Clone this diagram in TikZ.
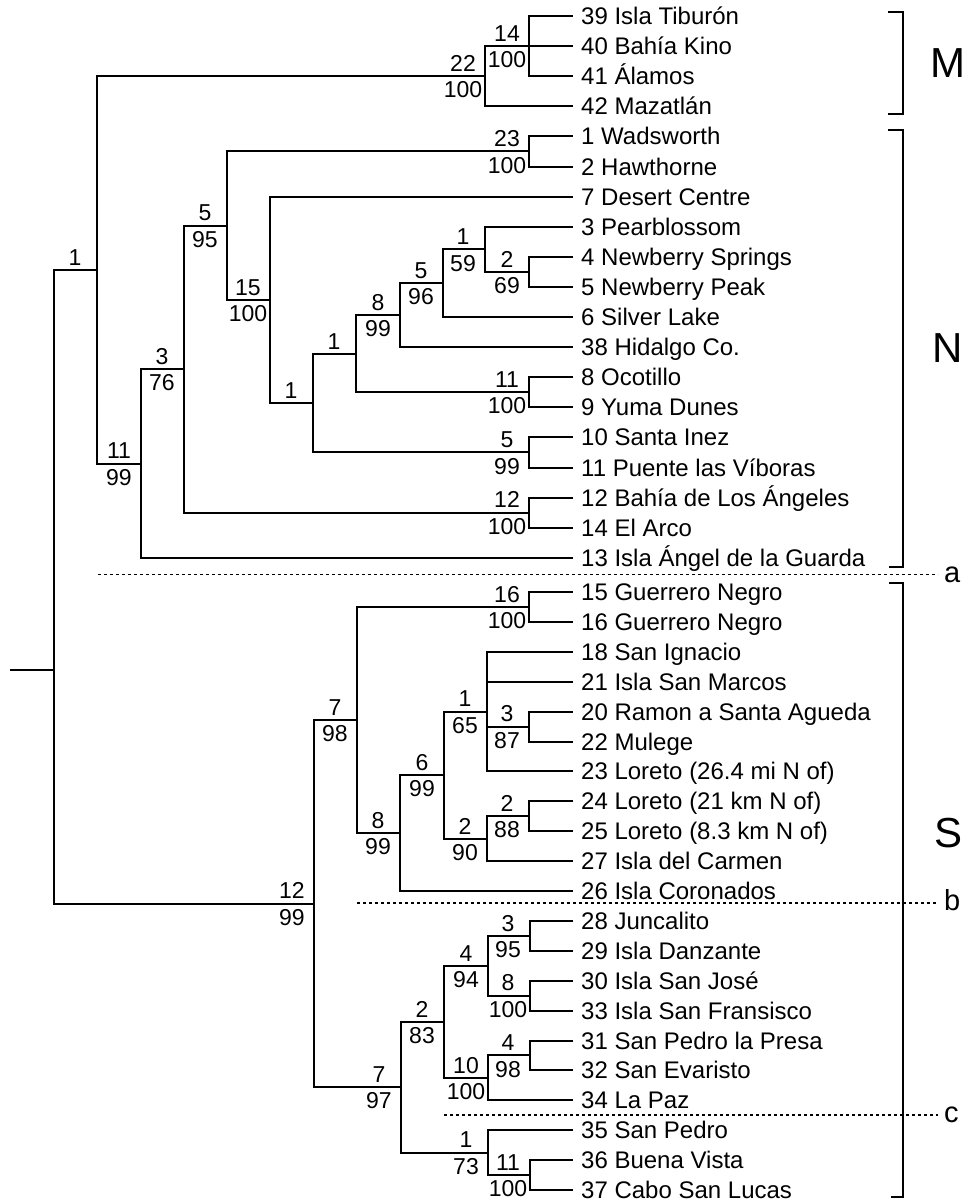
\documentclass[tikz,border=0pt]{standalone}
\usepackage{fontspec}
\setmainfont{Liberation Sans}
\tikzset{
  br/.style={line width=2pt, line cap=rect},
  leaf/.style={anchor=west, inner xsep=9pt, inner ysep=0pt, font=\fontsize{24}{26}\selectfont, text height=17pt, text depth=0pt},
  supA/.style={anchor=south, inner sep=0pt, font=\fontsize{23}{25}\selectfont, text height=16pt, text depth=0pt},
  supB/.style={anchor=north, inner sep=0pt, font=\fontsize{23}{25}\selectfont, text height=16pt, text depth=0pt},
  grp/.style={inner sep=0pt, font=\fontsize{42}{44}\selectfont, text height=30pt, text depth=0pt},
  cut/.style={anchor=west, inner xsep=6pt, inner ysep=0pt, font=\fontsize{29}{31}\selectfont, text height=15pt, text depth=0pt},
  sep/.style={line width=1.7pt, dash pattern=on 2.8pt off 3.2pt},
  brk/.style={line width=2.4pt}
}
\newcommand\mkint[5]{%
  \coordinate (#1) at (#2,#3);
  \node[supA] (#1-t) at (#2-22,#3-4.5) {#4};
  \node[supB] (#1-b) at (#2-22,#3+5.5) {#5};
}
\newcommand\mkone[4]{%
  \coordinate (#1) at (#2,#3);
  \node[supA] (#1-t) at (#2-22,#3-4.5) {#4};
}
\newcommand\mkleaf[3]{\node[leaf] (#1) at (572,#2) {#3};}
\begin{document}
\begin{tikzpicture}[x=1pt,y=-1pt]
\useasboundingbox (0,0) rectangle (974,1203);
% leaves
\mkleaf{l39}{16}{39 Isla Tiburón}
\mkleaf{l40}{46.1}{40 Bahía Kino}
\mkleaf{l41}{76.2}{41 Álamos}
\mkleaf{l42}{106.3}{42 Mazatlán}
\mkleaf{l1}{136.4}{1 Wadsworth}
\mkleaf{l2}{166.5}{2 Hawthorne}
\mkleaf{l7}{196.6}{7 Desert Centre}
\mkleaf{l3}{226.7}{3 Pearblossom}
\mkleaf{l4}{256.8}{4 Newberry Springs}
\mkleaf{l5}{286.9}{5 Newberry Peak}
\mkleaf{l6}{317}{6 Silver Lake}
\mkleaf{l38}{347.1}{38 Hidalgo Co.}
\mkleaf{l8}{377.2}{8 Ocotillo}
\mkleaf{l9}{407.3}{9 Yuma Dunes}
\mkleaf{l10}{437.4}{10 Santa Inez}
\mkleaf{l11}{467.5}{11 Puente las Víboras}
\mkleaf{l12}{497.6}{12 Bahía de Los Ángeles}
\mkleaf{l14}{527.7}{14 El Arco}
\mkleaf{l13}{557.8}{13 Isla Ángel de la Guarda}
\mkleaf{l15}{592}{15 Guerrero Negro}
\mkleaf{l16}{621.9}{16 Guerrero Negro}
\mkleaf{l18}{651.8}{18 San Ignacio}
\mkleaf{l21}{681.7}{21 Isla San Marcos}
\mkleaf{l20}{711.6}{20 Ramon a Santa Agueda}
\mkleaf{l22}{741.5}{22 Mulege}
\mkleaf{l23}{771.4}{23 Loreto (26.4 mi N of)}
\mkleaf{l24}{801.3}{24 Loreto (21 km N of)}
\mkleaf{l25}{831.2}{25 Loreto (8.3 km N of)}
\mkleaf{l27}{861.1}{27 Isla del Carmen}
\mkleaf{l26}{891}{26 Isla Coronados}
\mkleaf{l28}{920.9}{28 Juncalito}
\mkleaf{l29}{950.8}{29 Isla Danzante}
\mkleaf{l30}{980.7}{30 Isla San José}
\mkleaf{l33}{1010.6}{33 Isla San Fransisco}
\mkleaf{l31}{1040.5}{31 San Pedro la Presa}
\mkleaf{l32}{1070.4}{32 San Evaristo}
\mkleaf{l34}{1100.3}{34 La Paz}
\mkleaf{l35}{1130.2}{35 San Pedro}
\mkleaf{l36}{1160.1}{36 Buena Vista}
\mkleaf{l37}{1190}{37 Cabo San Lucas}
% internal nodes (top)
\mkint{n14}{529}{46.1}{14}{100}
\mkint{nM}{485}{76.2}{22}{100}
\mkint{n23}{529}{151.45}{23}{100}
\mkint{n2a}{529}{271.85}{2}{69}
\mkint{n1a}{485}{249.3}{1}{59}
\mkint{n5b}{443}{283.1}{5}{96}
\mkint{n8}{400}{315.1}{8}{99}
\mkint{n11}{529}{392.25}{11}{100}
\mkone{n1b}{356}{353.7}{1}
\mkint{n5c}{529}{452.45}{5}{99}
\mkone{n1c}{313}{403.1}{1}
\mkint{n15}{270}{299.85}{15}{100}
\mkint{n5a}{227}{225.65}{5}{95}
\mkint{n12}{529}{512.65}{12}{100}
\mkint{n3}{184}{369.15}{3}{76}
\mkint{n11b}{141}{463.5}{11}{99}
\mkone{nR1}{97}{269.85}{1}
% internal nodes (bottom)
\mkint{n16}{529}{606.95}{16}{100}
\mkint{n3b}{529}{726.55}{3}{87}
\mkint{n1d}{487}{711.6}{1}{65}
\mkint{n2b}{529}{816.25}{2}{88}
\mkint{n2c}{487}{838.7}{2}{90}
\mkint{n6}{444}{775.15}{6}{99}
\mkint{n8b}{400}{833.1}{8}{99}
\mkint{n7a}{357}{720}{7}{98}
\mkint{n3c}{530}{935.85}{3}{95}
\mkint{n8c}{530}{995.65}{8}{100}
\mkint{n4}{488}{965.75}{4}{94}
\mkint{n4b}{530}{1055.45}{4}{98}
\mkint{n10}{488}{1077.9}{10}{100}
\mkint{n2d}{444}{1021.8}{2}{83}
\mkint{n11c}{530}{1175.05}{11}{100}
\mkint{n1e}{488}{1152.6}{1}{73}
\mkint{n7b}{401}{1087.2}{7}{97}
\mkint{n12b}{314}{903.6}{12}{99}
\coordinate (root) at (54,670);
\coordinate (stub) at (11,670);
% branches
\draw[br] (n14) |- (l39.west);
\draw[br] (n14) |- (l40.west);
\draw[br] (n14) |- (l41.west);
\draw[br] (nM) |- (n14);
\draw[br] (nM) |- (l42.west);
\draw[br] (n23) |- (l1.west);
\draw[br] (n23) |- (l2.west);
\draw[br] (n2a) |- (l4.west);
\draw[br] (n2a) |- (l5.west);
\draw[br] (n1a) |- (l3.west);
\draw[br] (n1a) |- (n2a);
\draw[br] (n5b) |- (n1a);
\draw[br] (n5b) |- (l6.west);
\draw[br] (n8) |- (n5b);
\draw[br] (n8) |- (l38.west);
\draw[br] (n11) |- (l8.west);
\draw[br] (n11) |- (l9.west);
\draw[br] (n1b) |- (n8);
\draw[br] (n1b) |- (n11);
\draw[br] (n5c) |- (l10.west);
\draw[br] (n5c) |- (l11.west);
\draw[br] (n1c) |- (n1b);
\draw[br] (n1c) |- (n5c);
\draw[br] (n15) |- (l7.west);
\draw[br] (n15) |- (n1c);
\draw[br] (n5a) |- (n23);
\draw[br] (n5a) |- (n15);
\draw[br] (n12) |- (l12.west);
\draw[br] (n12) |- (l14.west);
\draw[br] (n3) |- (n5a);
\draw[br] (n3) |- (n12);
\draw[br] (n11b) |- (n3);
\draw[br] (n11b) |- (l13.west);
\draw[br] (nR1) |- (nM);
\draw[br] (nR1) |- (n11b);
\draw[br] (root) |- (nR1);
\draw[br] (root) |- (n12b);
\draw[br] (stub) -- (root);
\draw[br] (n16) |- (l15.west);
\draw[br] (n16) |- (l16.west);
\draw[br] (n3b) |- (l20.west);
\draw[br] (n3b) |- (l22.west);
\draw[br] (n1d) |- (l18.west);
\draw[br] (n1d) |- (l21.west);
\draw[br] (n1d) |- (n3b);
\draw[br] (n1d) |- (l23.west);
\draw[br] (n2b) |- (l24.west);
\draw[br] (n2b) |- (l25.west);
\draw[br] (n2c) |- (n2b);
\draw[br] (n2c) |- (l27.west);
\draw[br] (n6) |- (n1d);
\draw[br] (n6) |- (n2c);
\draw[br] (n8b) |- (n6);
\draw[br] (n8b) |- (l26.west);
\draw[br] (n7a) |- (n16);
\draw[br] (n7a) |- (n8b);
\draw[br] (n3c) |- (l28.west);
\draw[br] (n3c) |- (l29.west);
\draw[br] (n8c) |- (l30.west);
\draw[br] (n8c) |- (l33.west);
\draw[br] (n4) |- (n3c);
\draw[br] (n4) |- (n8c);
\draw[br] (n4b) |- (l31.west);
\draw[br] (n4b) |- (l32.west);
\draw[br] (n10) |- (n4b);
\draw[br] (n10) |- (l34.west);
\draw[br] (n2d) |- (n4);
\draw[br] (n2d) |- (n10);
\draw[br] (n11c) |- (l36.west);
\draw[br] (n11c) |- (l37.west);
\draw[br] (n1e) |- (l35.west);
\draw[br] (n1e) |- (n11c);
\draw[br] (n7b) |- (n2d);
\draw[br] (n7b) |- (n1e);
\draw[br] (n12b) |- (n7a);
\draw[br] (n12b) |- (n7b);
% group brackets
\draw[brk] (888,12) -- (903,12) -- (903,114) -- (888,114);
\draw[brk] (888,130) -- (903,130) -- (903,567) -- (889,567);
\draw[brk] (889,583) -- (903,583) -- (903,1197) -- (891,1197);
\node[grp] (gM) at (948,62) {M};
\node[grp] (gN) at (948,347) {N};
\node[grp] (gS) at (948,832) {S};
% separators
\coordinate (sa) at (98,574.5);
\coordinate (sb) at (357,903);
\coordinate (sc) at (444,1115);
\node[cut] (ca) at (938,574.5) {a};
\node[cut] (cb) at (938,903) {b};
\node[cut] (cc) at (938,1115) {c};
\draw[sep] (sa) -- (ca.west);
\draw[sep] (sb) -- (cb.west);
\draw[sep] (sc) -- (cc.west);
\end{tikzpicture}
\end{document}
